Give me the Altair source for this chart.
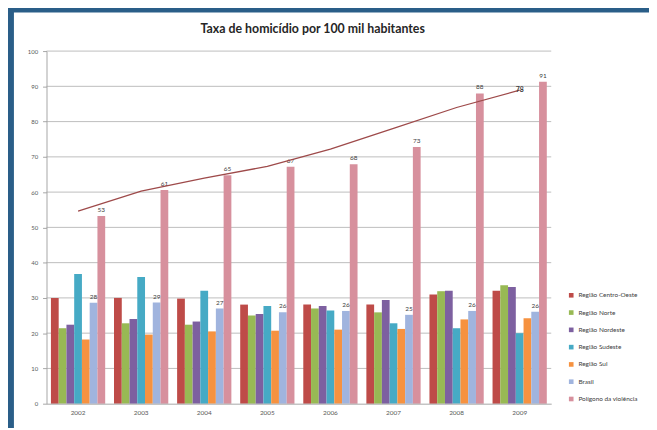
import altair as alt
import pandas as pd

anos = ["2002", "2003", "2004", "2005", "2006", "2007", "2008", "2009"]
series = ["Região Centro-Oeste", "Região Norte", "Região Nordeste", "Região Sudeste",
          "Região Sul", "Brasil", "Polígono da violência"]
centro_oeste = [30.0, 30.0, 29.8, 28.1, 28.1, 28.1, 31.0, 32.0]
norte = [21.4, 22.8, 22.4, 25.0, 27.0, 25.9, 31.9, 33.6]
nordeste = [22.4, 24.0, 23.3, 25.4, 27.7, 29.4, 32.0, 33.1]
sudeste = [36.8, 35.9, 32.0, 27.7, 26.4, 22.8, 21.4, 20.0]
sul = [18.2, 19.6, 20.5, 20.7, 21.0, 21.2, 23.9, 24.2]
brasil = [28.6, 28.7, 27.0, 25.9, 26.3, 25.2, 26.3, 26.1]
poligono = [53.2, 60.6, 64.8, 67.2, 67.9, 72.8, 88.0, 91.3]
rotulos_brasil = ["28", "29", "27", "26", "26", "25", "26", "26"]
rotulos_poligono = ["53", "61", "65", "67", "68", "73", "88", "91"]
tendencia = [54.6, 60.3, 64.0, 67.3, 72.2, 78.1, 84.0, 88.9]
rotulo_tendencia = ["", "", "", "", "", "", "", "78"]
grade = [10, 20, 30, 40, 50, 60, 70, 80, 90, 100]
cores = ["#BE4B48", "#98B954", "#7D60A0", "#46AAC5", "#F69240", "#A0B4DE", "#D7909D"]

valores = [centro_oeste, norte, nordeste, sudeste, sul, brasil, poligono]
linhas = []
for s, vals in zip(series, valores):
    for a, v in zip(anos, vals):
        linhas.append({"ano": a, "serie": s, "valor": v})
df_barras = pd.DataFrame(linhas)

rot = []
for a, v, t in zip(anos, brasil, rotulos_brasil):
    rot.append({"ano": a, "serie": "Brasil", "valor": v, "texto": t})
for a, v, t in zip(anos, poligono, rotulos_poligono):
    rot.append({"ano": a, "serie": "Polígono da violência", "valor": v, "texto": t})
df_rot = pd.DataFrame(rot)

df_tend = pd.DataFrame({"ano": anos, "valor": tendencia, "texto": rotulo_tendencia})
df_grade = pd.DataFrame({"valor": grade})

FONT = "Lato"

x_enc = alt.X("ano:N", sort=anos,
              scale=alt.Scale(paddingInner=0.14, paddingOuter=0.07),
              axis=alt.Axis(title=None, labelAngle=0, labelFontSize=6.5, labelColor="#595959",
                            labelPadding=6, ticks=False, domainColor="#A6A6A6",
                            grid=False, zindex=1, labelFont=FONT))
y_scale = alt.Scale(domain=[0, 100], nice=False)
y_axis = alt.Axis(title=None, values=list(range(0, 101, 10)), labelFontSize=6,
                  labelColor="#595959", tickSize=4, tickColor="#A6A6A6",
                  labelPadding=5, domainColor="#A6A6A6", grid=False, zindex=1,
                  labelFont=FONT)
y_enc = alt.Y("valor:Q", scale=y_scale, axis=y_axis)
xoff = alt.XOffset("serie:N", sort=series, scale=alt.Scale(paddingInner=0, paddingOuter=0))

fundo = alt.Chart(pd.DataFrame({"a": [0]})).mark_rect(color="white").encode(
    x=alt.value(-33), x2=alt.value(720), y=alt.value(-39), y2=alt.value(500))

linhas_grade = alt.Chart(df_grade).mark_rule(color="#BDBDBD", strokeWidth=1).encode(
    y=y_enc)

barras = alt.Chart(df_barras).mark_bar().encode(
    x=x_enc, y=y_enc, xOffset=xoff,
    color=alt.Color("serie:N", sort=series,
                    scale=alt.Scale(domain=series, range=cores),
                    legend=alt.Legend(title=None, orient="none", legendX=528, legendY=244,
                                      symbolType="square", symbolSize=22, labelFontSize=6.5,
                                      labelColor="#404040", rowPadding=10.5, padding=0,
                                      labelFont=FONT, symbolStrokeWidth=0)))

textos = alt.Chart(df_rot).mark_text(fontSize=6.5, color="#404040", baseline="bottom",
                                     dy=-3, font=FONT).encode(
    x=x_enc, xOffset=xoff, y=y_enc, text="texto:N")

linha = alt.Chart(df_tend).mark_line(color="#9E4A4A", strokeWidth=1.3).encode(
    x=x_enc, y=y_enc)

texto_linha = alt.Chart(df_tend).mark_text(fontSize=7, color="#404040", fontWeight="bold",
                                           font=FONT).encode(
    x=x_enc, y=y_enc, text="texto:N")

chart = alt.layer(fundo, linhas_grade, barras, textos, linha, texto_linha).properties(
    width=511, height=357,
    title=alt.TitleParams("Taxa de homicídio por 100 mil habitantes", fontSize=12.5,
                          fontWeight="bold", color="#262626", anchor="middle", offset=-23,
                          dx=14, font=FONT, frame="group"),
    autosize=alt.AutoSizeParams(type="none"),
    padding={"left": 39, "top": 41, "right": 99, "bottom": 22},
    background="#2A5E88",
).configure_view(stroke=None)

chart.save("out.html", embed_options={"renderer": "svg", "actions": False})
